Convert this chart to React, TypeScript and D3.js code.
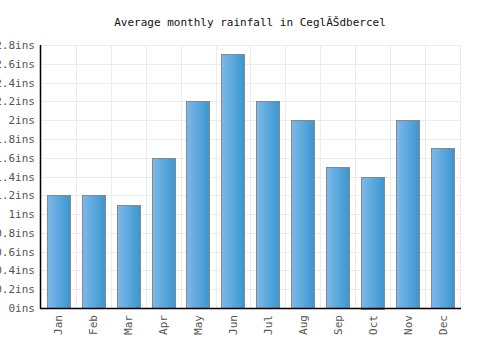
import React, { useEffect, useRef } from "react";
import * as d3 from "d3";

const months = ["Jan", "Feb", "Mar", "Apr", "May", "Jun", "Jul", "Aug", "Sep", "Oct", "Nov", "Dec"];
const rainfall = [1.2, 1.2, 1.1, 1.6, 2.2, 2.7, 2.2, 2.0, 1.5, 1.4, 2.0, 1.7];
const yTicks = [0, 0.2, 0.4, 0.6, 0.8, 1, 1.2, 1.4, 1.6, 1.8, 2, 2.2, 2.4, 2.6, 2.8];
const title = "Average monthly rainfall in CeglÃŠdbercel";

const App: React.FC = () => {
  const svgRef = useRef<SVGSVGElement | null>(null);

  useEffect(() => {
    if (!svgRef.current) return;
    const svg = d3.select(svgRef.current);
    svg.selectAll("*").remove();

    const font = "'DejaVu Sans Mono', monospace";
    const left = 41;
    const right = 460;
    const top = 45;
    const bottom = 308;

    const x = d3.scaleBand().domain(months).range([left, right]).paddingInner(0.33).paddingOuter(0.165);
    const bands = d3.scaleBand().domain(months).range([left, right]);
    const y = d3.scaleLinear().domain([0, 2.8]).range([bottom, top]);

    const defs = svg.append("defs");
    const grad = defs
      .append("linearGradient")
      .attr("id", "barGrad")
      .attr("x1", "0%")
      .attr("x2", "100%")
      .attr("y1", "0%")
      .attr("y2", "0%");
    grad.append("stop").attr("offset", "0%").attr("stop-color", "#7db9ea");
    grad.append("stop").attr("offset", "100%").attr("stop-color", "#3b96cf");

    svg
      .append("text")
      .attr("x", 250)
      .attr("y", 26)
      .attr("text-anchor", "middle")
      .style("font-family", font)
      .style("font-size", "11px")
      .attr("fill", "#111")
      .text(title);

    // grid
    const grid = svg.append("g").attr("stroke", "#ececec").attr("stroke-width", 1);
    grid
      .selectAll("line.h")
      .data(yTicks)
      .enter()
      .append("line")
      .attr("x1", left)
      .attr("x2", right)
      .attr("y1", (d) => Math.round(y(d)) + 0.5)
      .attr("y2", (d) => Math.round(y(d)) + 0.5);
    grid
      .selectAll("line.v")
      .data(months)
      .enter()
      .append("line")
      .attr("x1", (d) => Math.round(bands(d)! + bands.bandwidth()) + 0.5)
      .attr("x2", (d) => Math.round(bands(d)! + bands.bandwidth()) + 0.5)
      .attr("y1", top)
      .attr("y2", bottom);

    // bars
    svg
      .selectAll("rect.bar")
      .data(rainfall)
      .enter()
      .append("rect")
      .attr("class", "bar")
      .attr("x", (_, i) => Math.round(x(months[i])!) + 0.5)
      .attr("y", (d) => Math.round(y(d)) + 0.5)
      .attr("width", Math.round(x.bandwidth()))
      .attr("height", (d) => Math.round(bottom - y(d)))
      .attr("fill", "url(#barGrad)")
      .attr("stroke", "#888")
      .attr("stroke-width", 1);

    // axes
    svg
      .append("line")
      .attr("x1", left - 0.5)
      .attr("x2", left - 0.5)
      .attr("y1", top)
      .attr("y2", bottom + 1)
      .attr("stroke", "#000")
      .attr("stroke-width", 1.5);
    svg
      .append("line")
      .attr("x1", left - 1)
      .attr("x2", right + 1)
      .attr("y1", bottom + 0.5)
      .attr("y2", bottom + 0.5)
      .attr("stroke", "#000")
      .attr("stroke-width", 1.5);

    svg
      .selectAll("text.ytick")
      .data(yTicks)
      .enter()
      .append("text")
      .attr("x", 35)
      .attr("y", (d) => y(d) + 4)
      .attr("text-anchor", "end")
      .style("font-family", font)
      .style("font-size", "11px")
      .attr("fill", "#555")
      .text((d) => `${d3.format("~g")(d)}ins`);

    svg
      .selectAll("text.xtick")
      .data(months)
      .enter()
      .append("text")
      .attr(
        "transform",
        (d) => `translate(${bands(d)! + bands.bandwidth() / 2 + 4},${bottom + 7}) rotate(-90)`
      )
      .attr("text-anchor", "end")
      .style("font-family", font)
      .style("font-size", "11px")
      .attr("fill", "#555")
      .text((d) => d);
  }, []);

  return <svg ref={svgRef} width={500} height={350} style={{ display: "block", position: "absolute", left: 0, top: 0 }} />;
};

export default App;
